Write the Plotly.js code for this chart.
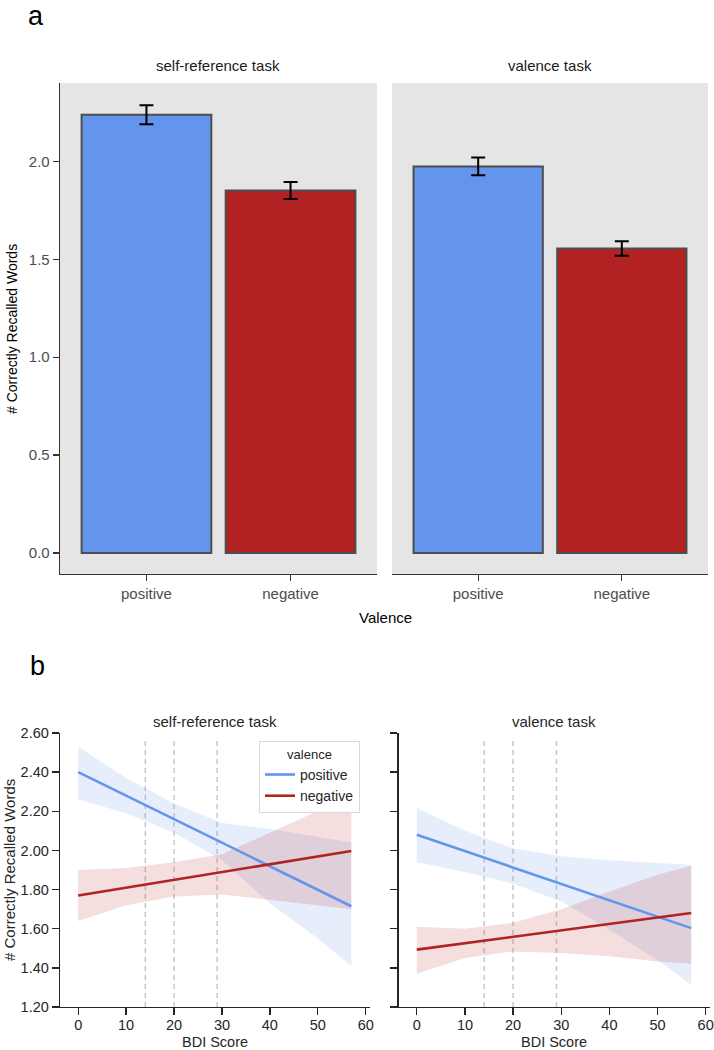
<!DOCTYPE html>
<html>
<head>
<meta charset="utf-8">
<script src="https://cdn.plot.ly/plotly-3.0.1.min.js"></script>
<style>
  html, body { margin: 0; padding: 0; background: #fff; }
  #chart { width: 714px; height: 1050px; }
</style>
</head>
<body>
<div id="chart"></div>
<script>
// panel a: mean recalled words per valence, per task
var valenceCats = ['positive', 'negative'];
var barColors = ['#6495ED', '#B22222'];
var selfRefMeans = [2.238, 1.851];
var selfRefErr = [0.048, 0.043];
var valTaskMeans = [1.974, 1.555];
var valTaskErr = [0.045, 0.037];

// panel b: regression of recall on BDI score
var lineX = [0, 57];
var selfPosLine = [2.40, 1.715];
var selfNegLine = [1.77, 1.997];
var valPosLine = [2.08, 1.603];
var valNegLine = [1.493, 1.68];

var bandX = [0, 10, 20, 30, 40, 50, 57];
var selfPosUpper = [2.53, 2.37, 2.24, 2.14, 2.11, 2.07, 2.04];
var selfPosLower = [2.26, 2.19, 2.09, 1.95, 1.73, 1.55, 1.41];
var selfNegUpper = [1.90, 1.91, 1.94, 1.98, 2.09, 2.20, 2.28];
var selfNegLower = [1.64, 1.72, 1.765, 1.775, 1.75, 1.72, 1.70];
var valPosUpper = [2.217, 2.10, 2.01, 1.97, 1.95, 1.936, 1.927];
var valPosLower = [1.94, 1.89, 1.83, 1.74, 1.595, 1.44, 1.314];
var valNegUpper = [1.61, 1.60, 1.63, 1.70, 1.79, 1.876, 1.922];
var valNegLower = [1.37, 1.45, 1.484, 1.476, 1.459, 1.433, 1.421];

var bdiCutoffs = [14, 20, 29];

var FONT = 'Liberation Sans, Arial, Helvetica, sans-serif';
var W = 714, H = 1050;

function px(x) { return x / W; }
function py(y) { return 1 - y / H; }

function bars(means, errs, xa, ya) {
	return {
		type: 'bar', x: valenceCats, y: means, xaxis: xa, yaxis: ya,
		width: 0.9, showlegend: false, hoverinfo: 'skip',
		marker: { color: barColors, line: { color: '#4d4d4d', width: 2 } },
		error_y: { type: 'data', array: errs, visible: true, color: '#000', thickness: 2, width: 7 }
	};
}

function band(upper, lower, color, xa, ya) {
	return {
		type: 'scatter', mode: 'lines', xaxis: xa, yaxis: ya,
		x: bandX.concat(bandX.slice().reverse()),
		y: upper.concat(lower.slice().reverse()),
		fill: 'toself', fillcolor: color, line: { width: 0 },
		showlegend: false, hoverinfo: 'skip'
	};
}

function fitLine(y, color, name, xa, ya, legend) {
	return {
		type: 'scatter', mode: 'lines', x: lineX, y: y, xaxis: xa, yaxis: ya,
		line: { color: color, width: 2.6 }, name: name, legendgroup: name,
		showlegend: legend
	};
}

// text placed at pixel positions of the 714x1050 page
function label(text, x, y, size, color, angle) {
	return {
		text: text, x: px(x), y: py(y), xref: 'paper', yref: 'paper',
		xanchor: 'center', yanchor: 'middle', showarrow: false, textangle: angle || 0,
		borderpad: 0, font: { family: FONT, size: size, color: color }
	};
}

var blueBand = 'rgba(100,149,237,0.16)';
var redBand = 'rgba(178,34,34,0.15)';

var data = [
	bars(selfRefMeans, selfRefErr, 'x', 'y'),
	bars(valTaskMeans, valTaskErr, 'x2', 'y2'),

	band(selfPosUpper, selfPosLower, blueBand, 'x3', 'y3'),
	band(selfNegUpper, selfNegLower, redBand, 'x3', 'y3'),
	band(valPosUpper, valPosLower, blueBand, 'x4', 'y4'),
	band(valNegUpper, valNegLower, redBand, 'x4', 'y4'),

	fitLine(selfPosLine, barColors[0], 'positive', 'x3', 'y3', true),
	fitLine(selfNegLine, barColors[1], 'negative', 'x3', 'y3', true),
	fitLine(valPosLine, barColors[0], 'positive', 'x4', 'y4', false),
	fitLine(valNegLine, barColors[1], 'negative', 'x4', 'y4', false)
];

var topTick = { family: FONT, size: 15, color: '#4d4d4d' };
var botTick = { family: FONT, size: 14.5, color: '#262626' };

var topX = {
	type: 'category', range: [-0.6, 1.6], showline: true, linecolor: '#333', linewidth: 1.3,
	ticks: 'outside', ticklen: 6, tickwidth: 1.3, tickcolor: '#333', tickfont: topTick,
	showgrid: false, zeroline: false, fixedrange: true
};
var topDomY = [py(574), py(83)];

var botX = {
	range: [-3.8, 60.9], tick0: 0, dtick: 10, showline: true, linecolor: '#262626', linewidth: 1.3,
	ticks: 'outside', ticklen: 7, tickwidth: 1.3, tickcolor: '#262626', tickfont: botTick,
	ticklabelstandoff: -3, showgrid: false, zeroline: false
};
var botDomY = [py(1007), py(733)];

var layout = {
	width: W, height: H,
	margin: { l: 0, r: 0, t: 0, b: 0 },
	paper_bgcolor: '#fff', plot_bgcolor: 'rgba(0,0,0,0)',
	font: { family: FONT, color: '#1a1a1a' },
	bargap: 0,

	xaxis: Object.assign({}, topX, { domain: [px(60), px(377)], anchor: 'y' }),
	xaxis2: Object.assign({}, topX, { domain: [px(392), px(708)], anchor: 'y2' }),
	yaxis: {
		domain: topDomY, anchor: 'x', range: [-0.107, 2.40], tick0: 0, dtick: 0.5, tickformat: '.1f',
		showline: true, linecolor: '#333', linewidth: 1.3, ticks: 'outside', ticklen: 6, tickwidth: 1.3,
		tickcolor: '#333', tickfont: topTick, showgrid: false, zeroline: false
	},
	yaxis2: {
		domain: topDomY, anchor: 'x2', matches: 'y', showticklabels: false, ticks: '',
		showline: false, showgrid: false, zeroline: false
	},

	xaxis3: Object.assign({}, botX, { domain: [px(60), px(370)], anchor: 'y3' }),
	xaxis4: Object.assign({}, botX, { domain: [px(398.5), px(710)], anchor: 'y4' }),
	yaxis3: {
		domain: botDomY, anchor: 'x3', range: [1.2, 2.6], tick0: 1.2, dtick: 0.2, tickformat: '.2f',
		showline: true, linecolor: '#262626', linewidth: 1.3, ticks: 'outside', ticklen: 7, tickwidth: 1.3,
		tickcolor: '#262626', tickfont: botTick, showgrid: false, zeroline: false
	},
	yaxis4: {
		domain: botDomY, anchor: 'x4', range: [1.2, 2.6], tick0: 1.2, dtick: 0.2, showticklabels: false,
		showline: true, linecolor: '#262626', linewidth: 1.3, ticks: 'outside', ticklen: 7, tickwidth: 1.3,
		tickcolor: '#262626', showgrid: false, zeroline: false
	},

	legend: {
		x: px(259), y: py(741), xanchor: 'left', yanchor: 'top',
		bgcolor: '#fff', bordercolor: '#d9d9d9', borderwidth: 1,
		font: { family: FONT, size: 14, color: '#262626' },
		title: { text: 'valence', side: 'top center', font: { family: FONT, size: 13, color: '#262626' } },
		itemwidth: 30, tracegroupgap: 0
	},

	shapes: [
		{ type: 'rect', xref: 'x domain', yref: 'y domain', x0: 0, x1: 1, y0: 0, y1: 1,
		  fillcolor: '#e5e5e5', line: { width: 0 }, layer: 'below' },
		{ type: 'rect', xref: 'x2 domain', yref: 'y2 domain', x0: 0, x1: 1, y0: 0, y1: 1,
		  fillcolor: '#e5e5e5', line: { width: 0 }, layer: 'below' }
	],

	annotations: [
		label('a', 36, 16, 27, '#000'),
		label('b', 37, 666, 27, '#000'),

		label('self-reference task', 218, 66, 15, '#1a1a1a'),
		label('valence task', 550, 66, 15, '#1a1a1a'),
		label('Valence', 385, 617, 15, '#000'),
		label('# Correctly Recalled Words', 12, 329, 14, '#000', -90),

		label('self-reference task', 215, 721, 15, '#262626'),
		label('valence task', 554, 721, 15, '#262626'),
		label('BDI Score', 215, 1042, 14.5, '#262626'),
		label('BDI Score', 554, 1042, 14.5, '#262626'),
		label('# Correctly Recalled Words', 9, 870, 15, '#262626', -90)
	]
};

// dashed BDI cut-off lines in both lower panels
['x3', 'x4'].forEach(function (xa) {
	var ya = xa === 'x3' ? 'y3' : 'y4';
	bdiCutoffs.forEach(function (c) {
		layout.shapes.push({
			type: 'line', xref: xa, yref: ya + ' domain', x0: c, x1: c, y0: 0, y1: 0.985,
			line: { color: '#c8c8c8', width: 1.5, dash: '5px,4px' }, layer: 'below'
		});
	});
});

Plotly.newPlot('chart', data, layout, { displayModeBar: false, staticPlot: true });
</script>
</body>
</html>
